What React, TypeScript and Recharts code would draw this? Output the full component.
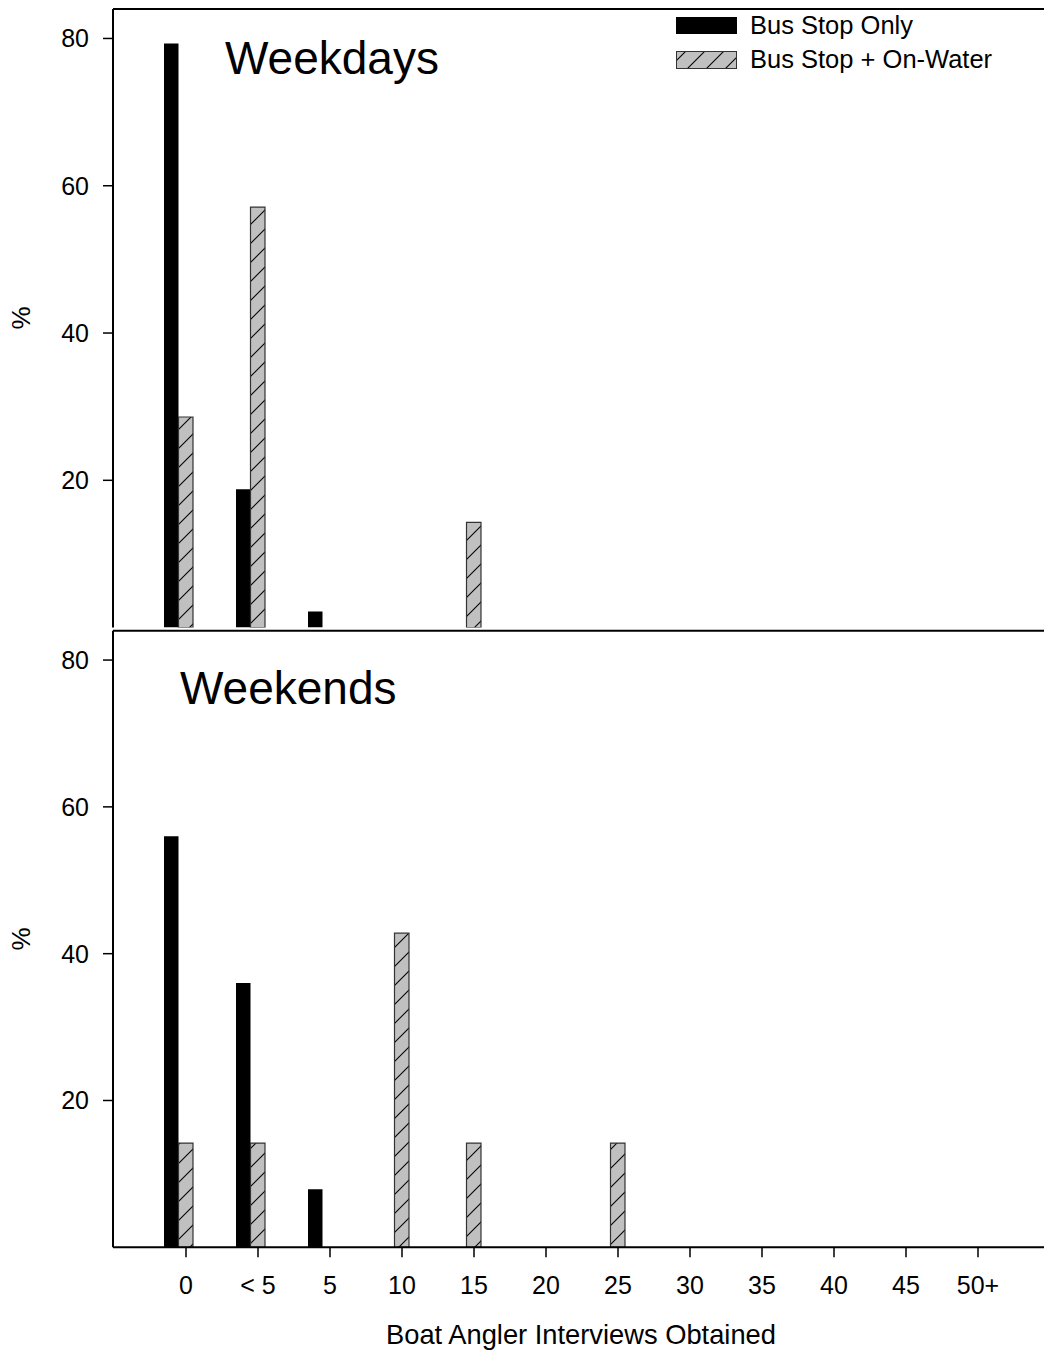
import React from 'react';
import { BarChart, Bar, XAxis, YAxis, ReferenceLine, Legend, Customized } from 'recharts';

const categories = ['0', '< 5', '5', '10', '15', '20', '25', '30', '35', '40', '45', '50+'];
const weekdayBusStop = [79.3, 18.8, 2.2, 0, 0, 0, 0, 0, 0, 0, 0, 0];
const weekdayOnWater = [28.6, 57.1, 0, 0, 14.3, 0, 0, 0, 0, 0, 0, 0];
const weekendBusStop = [56, 36, 7.9, 0, 0, 0, 0, 0, 0, 0, 0, 0];
const weekendOnWater = [14.2, 14.2, 0, 42.8, 14.2, 0, 14.2, 0, 0, 0, 0, 0];
const yTicks = [20, 40, 60, 80];
const yMax = 84;

const seriesNames = ['Bus Stop Only', 'Bus Stop + On-Water'];

const weekdayData = categories.map((c, i) => ({ cat: c, bus: weekdayBusStop[i], water: weekdayOnWater[i], pad: 0 }));
const weekendData = categories.map((c, i) => ({ cat: c, bus: weekendBusStop[i], water: weekendOnWater[i], pad: 0 }));

const FONT = '"Liberation Sans", Arial, Helvetica, sans-serif';
const AX = '#000';

const LegendBox = () => (
  <svg width={360} height={70} style={{ display: 'block' }}>
    <defs>
      <pattern id="hatchLegend" patternUnits="userSpaceOnUse" width={19} height={19}>
        <rect x={0} y={0} width={19} height={19} fill="#c0c0c0" />
        <line x1={0} y1={19} x2={19} y2={0} stroke="#000" strokeWidth={1.1} />
        <line x1={-2} y1={2} x2={2} y2={-2} stroke="#000" strokeWidth={1.1} />
        <line x1={17} y1={21} x2={21} y2={17} stroke="#000" strokeWidth={1.1} />
      </pattern>
    </defs>
    <rect x={6} y={7} width={61} height={17} fill="#000" />
    <text x={80} y={23.5} fontSize={25.5} fontFamily={FONT} fill="#000">{seriesNames[0]}</text>
    <rect x={6.5} y={41.5} width={60} height={17} fill="url(#hatchLegend)" stroke="#333" strokeWidth={1} />
    <text x={80} y={57.5} fontSize={25.5} fontFamily={FONT} fill="#000">{seriesNames[1]}</text>
  </svg>
);

const tickStyle = { fontSize: 25, fontFamily: FONT, fill: '#000' };

export default function App() {
  return (
    <div style={{ position: 'absolute', left: 0, top: 0, width: 1044, height: 1361, background: '#fff', fontFamily: FONT }}>
      <svg width={0} height={0} style={{ position: 'absolute' }}>
        <defs>
          <pattern id="hatch" patternUnits="userSpaceOnUse" width={19} height={19}>
            <rect x={0} y={0} width={19} height={19} fill="#c0c0c0" />
            <line x1={0} y1={19} x2={19} y2={0} stroke="#000" strokeWidth={1.1} />
            <line x1={-2} y1={2} x2={2} y2={-2} stroke="#000" strokeWidth={1.1} />
            <line x1={17} y1={21} x2={21} y2={17} stroke="#000" strokeWidth={1.1} />
          </pattern>
        </defs>
      </svg>

      <div style={{ position: 'absolute', left: 0, top: 0 }}>
        <BarChart width={1044} height={640} data={weekdayData} margin={{ top: 9, right: 0, bottom: 12.4, left: 0 }} barGap={0}>
          <XAxis dataKey="cat" height={0} tick={false} tickLine={false} axisLine={{ stroke: AX, strokeWidth: 2 }} padding={{ left: 37, right: 30 }} />
          <YAxis width={113} domain={[0, yMax]} ticks={yTicks} allowDataOverflow tickSize={10} tickMargin={14}
            tick={tickStyle} tickLine={{ stroke: AX, strokeWidth: 1.5 }} axisLine={{ stroke: AX, strokeWidth: 2 }} />
          <ReferenceLine y={yMax} stroke={AX} strokeWidth={2} />
          <Bar dataKey="bus" name={seriesNames[0]} fill="#000" barSize={14.5} isAnimationActive={false} />
          <Bar dataKey="water" name={seriesNames[1]} fill="url(#hatch)" stroke="#333" strokeWidth={1.2} barSize={14.5} isAnimationActive={false} />
          <Bar dataKey="pad" fill="none" stroke="none" barSize={14.5} isAnimationActive={false} legendType="none" />
          <Legend layout="vertical" align="center" verticalAlign="middle" content={() => <LegendBox />}
            wrapperStyle={{ position: 'absolute', left: 670, top: 10, width: 360, height: 70 }} />
          <Customized component={() => (
            <g>
              <text x={225} y={74} fontSize={46} fontFamily={FONT} fill="#000">Weekdays</text>
              <text x={21} y={318} fontSize={26} fontFamily={FONT} fill="#000" textAnchor="middle" dominantBaseline="central" transform="rotate(-90, 21, 318)">%</text>
            </g>
          )} />
        </BarChart>
      </div>

      <div style={{ position: 'absolute', left: 0, top: 620 }}>
        <BarChart width={1044} height={741} data={weekendData} margin={{ top: 10.7, right: 0, bottom: 0, left: 0 }} barGap={0}>
          <XAxis dataKey="cat" height={113.7} interval={0} tickSize={10} tickMargin={19} tick={tickStyle}
            tickLine={{ stroke: AX, strokeWidth: 1.5 }} axisLine={{ stroke: AX, strokeWidth: 2 }} padding={{ left: 37, right: 30 }} />
          <YAxis width={113} domain={[0, yMax]} ticks={yTicks} allowDataOverflow tickSize={10} tickMargin={14}
            tick={tickStyle} tickLine={{ stroke: AX, strokeWidth: 1.5 }} axisLine={{ stroke: AX, strokeWidth: 2 }} />
          <ReferenceLine y={yMax} stroke={AX} strokeWidth={2} />
          <Bar dataKey="bus" name={seriesNames[0]} fill="#000" barSize={14.5} isAnimationActive={false} />
          <Bar dataKey="water" name={seriesNames[1]} fill="url(#hatch)" stroke="#333" strokeWidth={1.2} barSize={14.5} isAnimationActive={false} />
          <Bar dataKey="pad" fill="none" stroke="none" barSize={14.5} isAnimationActive={false} />
          <Customized component={() => (
            <g>
              <text x={180} y={84} fontSize={46} fontFamily={FONT} fill="#000">Weekends</text>
              <text x={21} y={319} fontSize={26} fontFamily={FONT} fill="#000" textAnchor="middle" dominantBaseline="central" transform="rotate(-90, 21, 319)">%</text>
              <text x={581} y={724} fontSize={27.3} fontFamily={FONT} fill="#000" textAnchor="middle">Boat Angler Interviews Obtained</text>
            </g>
          )} />
        </BarChart>
      </div>
    </div>
  );
}
